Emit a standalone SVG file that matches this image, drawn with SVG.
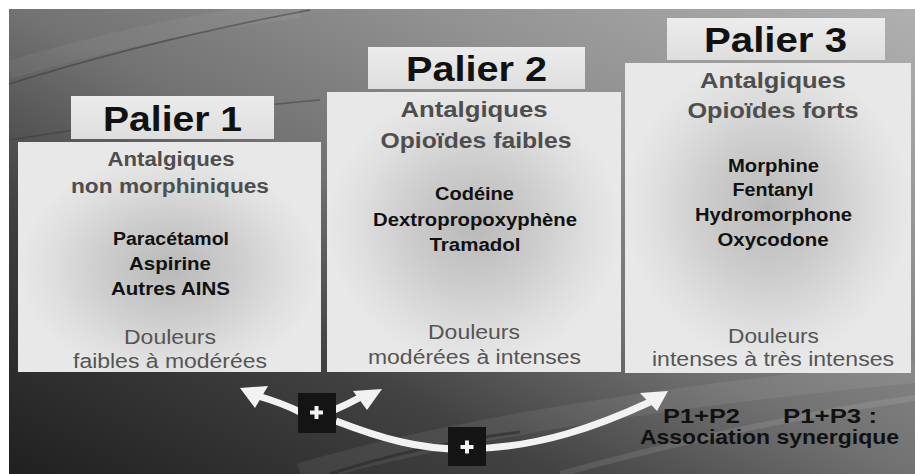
<svg xmlns="http://www.w3.org/2000/svg" width="915" height="474" viewBox="0 0 915 474">
<defs>
<linearGradient id="bg" x1="0" y1="1" x2="1" y2="0">
<stop offset="0" stop-color="#202020"/>
<stop offset="0.3" stop-color="#424242"/>
<stop offset="0.5" stop-color="#727272"/>
<stop offset="0.75" stop-color="#949494"/>
<stop offset="1" stop-color="#b0b0b0"/>
</linearGradient>
<radialGradient id="pg1" cx="0.5" cy="0.55" r="0.5">
<stop offset="0" stop-color="#b9b9b9"/>
<stop offset="0.45" stop-color="#cdcdcd"/>
<stop offset="0.8" stop-color="#e0e0e0"/>
<stop offset="1" stop-color="#e8e8e8"/>
</radialGradient>
<radialGradient id="pg2" href="#pg1" cy="0.48"/>
<radialGradient id="pg3" href="#pg1" cy="0.47"/>
<linearGradient id="lab" x1="0" y1="0" x2="0" y2="1">
<stop offset="0" stop-color="#ececec"/>
<stop offset="1" stop-color="#dedede"/>
</linearGradient>
</defs>
<style>
.lab{fill:url(#lab)}
.pal{font-family:"Liberation Sans",Arial,sans-serif;font-weight:bold;font-size:35.5px;fill:#111;text-anchor:middle}
.hd{font-family:"Liberation Sans",Arial,sans-serif;font-weight:bold;fill:#4e4e4e;text-anchor:middle}
.dr{font-family:"Liberation Sans",Arial,sans-serif;font-weight:bold;font-size:17.5px;fill:#111;text-anchor:middle}
.dl{font-family:"Liberation Sans",Arial,sans-serif;font-size:19.5px;fill:#555;text-anchor:middle}
.bt{font-family:"Liberation Sans",Arial,sans-serif;font-weight:bold;font-size:20.5px;fill:#111;text-anchor:middle}
.arr{fill:none;stroke:#f2f2f2;stroke-width:7}
.head{fill:#f2f2f2}
.plusbox{fill:#141414}
.plus{stroke:#f4f4f4;stroke-width:4}
</style>
<rect width="915" height="474" fill="#fff"/>
<rect x="9" y="9" width="906" height="465" fill="url(#bg)"/>
<g fill="none">
<path d="M9,84 Q150,40 310,10" stroke="#3e3e3e" stroke-width="1.5" opacity="0.6"/>
<path d="M9,70 Q160,25 300,9" stroke="#ffffff" stroke-width="18" opacity="0.05"/>
<path d="M9,140 Q200,110 320,100" stroke="#3a3a3a" stroke-width="1.5" opacity="0.5"/>
<path d="M300,474 Q520,410 915,372" stroke="#ffffff" stroke-width="22" opacity="0.07"/>
<path d="M560,474 Q760,420 915,398" stroke="#ffffff" stroke-width="6" opacity="0.1"/>
<path d="M330,474 Q420,445 520,432" stroke="#1a1a1a" stroke-width="3" opacity="0.4"/>
</g>

<g id="palier1">
<rect x="18" y="142" width="303" height="230" fill="url(#pg1)"/>
<rect class="lab" x="71" y="96" width="203" height="43"/>
<text class="pal" x="172.5" y="131" textLength="139" lengthAdjust="spacingAndGlyphs">Palier 1</text>
<text class="hd" x="171" y="166" font-size="19.5" textLength="127" lengthAdjust="spacingAndGlyphs">Antalgiques</text>
<text class="hd" x="170" y="193" font-size="19.5" textLength="198" lengthAdjust="spacingAndGlyphs">non morphiniques</text>
<text class="dr" x="171" y="245" font-size="17" textLength="116" lengthAdjust="spacingAndGlyphs">Paracétamol</text>
<text class="dr" x="170" y="270" font-size="17" textLength="82" lengthAdjust="spacingAndGlyphs">Aspirine</text>
<text class="dr" x="170.5" y="295" font-size="17" textLength="119" lengthAdjust="spacingAndGlyphs">Autres AINS</text>
<text class="dl" x="170" y="344" textLength="92" lengthAdjust="spacingAndGlyphs">Douleurs</text>
<text class="dl" x="170" y="368" textLength="194" lengthAdjust="spacingAndGlyphs">faibles à modérées</text>
</g>

<g id="palier2">
<rect x="327" y="92" width="294" height="280" fill="url(#pg2)"/>
<rect class="lab" x="368" y="47" width="217" height="42"/>
<text class="pal" x="476.5" y="81" textLength="141" lengthAdjust="spacingAndGlyphs">Palier 2</text>
<text class="hd" x="474" y="117" font-size="22" textLength="147" lengthAdjust="spacingAndGlyphs">Antalgiques</text>
<text class="hd" x="476" y="148" font-size="22" textLength="191" lengthAdjust="spacingAndGlyphs">Opioïdes faibles</text>
<text class="dr" x="474.5" y="200" textLength="79" lengthAdjust="spacingAndGlyphs">Codéine</text>
<text class="dr" x="475" y="226" textLength="204" lengthAdjust="spacingAndGlyphs">Dextropropoxyphène</text>
<text class="dr" x="475" y="251" textLength="91" lengthAdjust="spacingAndGlyphs">Tramadol</text>
<text class="dl" x="474" y="339" textLength="92" lengthAdjust="spacingAndGlyphs">Douleurs</text>
<text class="dl" x="474.5" y="364" textLength="213" lengthAdjust="spacingAndGlyphs">modérées à intenses</text>
</g>

<g id="palier3">
<rect x="625" y="63" width="286" height="310" fill="url(#pg3)"/>
<rect class="lab" x="667" y="18" width="218" height="42"/>
<text class="pal" x="775.5" y="52" textLength="143" lengthAdjust="spacingAndGlyphs">Palier 3</text>
<text class="hd" x="773" y="88" font-size="22" textLength="146" lengthAdjust="spacingAndGlyphs">Antalgiques</text>
<text class="hd" x="773" y="118" font-size="22" textLength="171" lengthAdjust="spacingAndGlyphs">Opioïdes forts</text>
<text class="dr" x="773.5" y="172" textLength="91" lengthAdjust="spacingAndGlyphs">Morphine</text>
<text class="dr" x="773" y="196" textLength="81" lengthAdjust="spacingAndGlyphs">Fentanyl</text>
<text class="dr" x="773.5" y="221" textLength="157" lengthAdjust="spacingAndGlyphs">Hydromorphone</text>
<text class="dr" x="773" y="246" textLength="111" lengthAdjust="spacingAndGlyphs">Oxycodone</text>
<text class="dl" x="773.5" y="343" textLength="91" lengthAdjust="spacingAndGlyphs">Douleurs</text>
<text class="dl" x="773" y="366" textLength="242" lengthAdjust="spacingAndGlyphs">intenses à très intenses</text>
</g>

<g id="connectors">
<path class="arr" d="M300,412 Q282,403 258,396"/>
<polygon class="head" points="240,388 268,386 255,408"/>
<path class="arr" d="M334,410 Q346,405 359,398"/>
<polygon class="head" points="382,389 353,391 367,410"/>
<path class="arr" d="M336,421 C380,438 420,450 467,449 C540,448 600,425 650,402"/>
<polygon class="head" points="668,391 640,393 657,411"/>
</g>

<g id="plus1">
<rect class="plusbox" x="298" y="393" width="38" height="40"/>
<path class="plus" d="M310,412.5 H323 M316.5,406 V419"/>
</g>
<g id="plus2">
<rect class="plusbox" x="448" y="427" width="38" height="39"/>
<path class="plus" d="M460.5,447 H473.5 M467,440.5 V453.5"/>
</g>

<g id="association">
<text class="bt" x="701.5" y="423" font-size="21.5" textLength="77" lengthAdjust="spacingAndGlyphs">P1+P2</text>
<text class="bt" x="830" y="423" font-size="21.5" textLength="94" lengthAdjust="spacingAndGlyphs">P1+P3 :</text>
<text class="bt" x="769.5" y="444" textLength="259" lengthAdjust="spacingAndGlyphs">Association synergique</text>
</g>
</svg>
